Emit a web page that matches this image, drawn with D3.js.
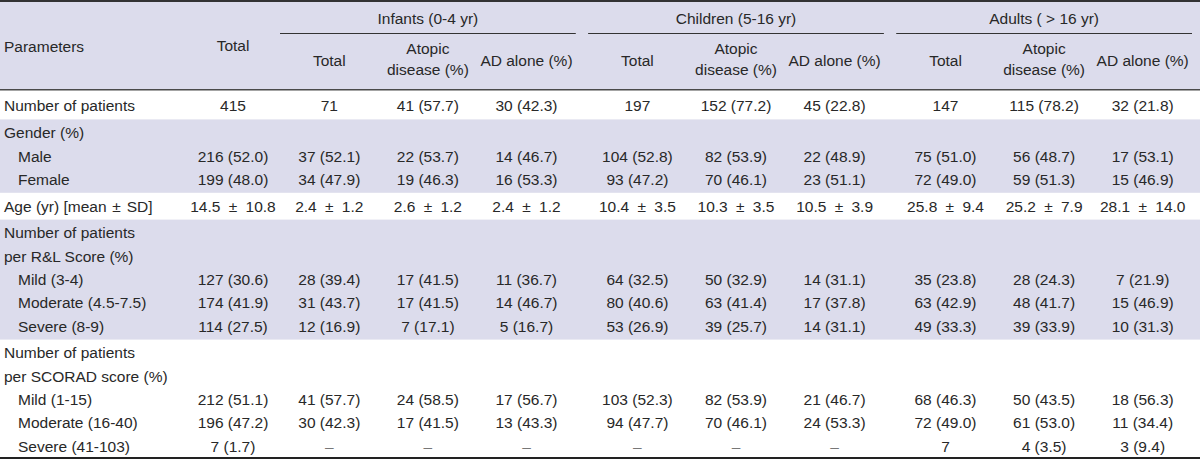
<!DOCTYPE html>
<html>
<head>
<meta charset="utf-8">
<script src="https://cdn.jsdelivr.net/npm/d3@7/dist/d3.min.js"></script>
<style>
  html, body { margin: 0; padding: 0; background: #ffffff; }
  svg text { font-family: "Liberation Sans", Arial, sans-serif; font-size: 15.5px; fill: #282828; }
</style>
</head>
<body>
<svg id="chart" width="1200" height="461"></svg>
<script>
// ---------- DATA ----------
const groups = ["Infants (0-4 yr)", "Children (5-16 yr)", "Adults ( > 16 yr)"];
const subColumns = ["Total", "Atopic disease (%)", "AD alone (%)"];
const paramHeader = "Parameters";
const totalHeader = "Total";

const rowLabels = [
  "Number of patients",
  "Gender (%)", "Male", "Female",
  "Age (yr) [mean \u00b1 SD]",
  "Number of patients", "per R&L Score (%)", "Mild (3-4)", "Moderate (4.5-7.5)", "Severe (8-9)",
  "Number of patients", "per SCORAD score (%)", "Mild (1-15)", "Moderate (16-40)", "Severe (41-103)"
];
const rowLevels = [0, 0, 1, 1, 0, 0, 0, 1, 1, 1, 0, 0, 1, 1, 1];
const rowSection = [0, 1, 1, 1, 2, 3, 3, 3, 3, 3, 4, 4, 4, 4, 4];

const totalValues = ["415", "", "216 (52.0)", "199 (48.0)", "14.5 \u00b1 10.8", "", "", "127 (30.6)", "174 (41.9)", "114 (27.5)", "", "", "212 (51.1)", "196 (47.2)", "7 (1.7)"];

const infantsTotal  = ["71", "", "37 (52.1)", "34 (47.9)", "2.4 \u00b1 1.2", "", "", "28 (39.4)", "31 (43.7)", "12 (16.9)", "", "", "41 (57.7)", "30 (42.3)", "\u2013"];
const infantsAtopic = ["41 (57.7)", "", "22 (53.7)", "19 (46.3)", "2.6 \u00b1 1.2", "", "", "17 (41.5)", "17 (41.5)", "7 (17.1)", "", "", "24 (58.5)", "17 (41.5)", "\u2013"];
const infantsAD     = ["30 (42.3)", "", "14 (46.7)", "16 (53.3)", "2.4 \u00b1 1.2", "", "", "11 (36.7)", "14 (46.7)", "5 (16.7)", "", "", "17 (56.7)", "13 (43.3)", "\u2013"];

const childrenTotal  = ["197", "", "104 (52.8)", "93 (47.2)", "10.4 \u00b1 3.5", "", "", "64 (32.5)", "80 (40.6)", "53 (26.9)", "", "", "103 (52.3)", "94 (47.7)", "\u2013"];
const childrenAtopic = ["152 (77.2)", "", "82 (53.9)", "70 (46.1)", "10.3 \u00b1 3.5", "", "", "50 (32.9)", "63 (41.4)", "39 (25.7)", "", "", "82 (53.9)", "70 (46.1)", "\u2013"];
const childrenAD     = ["45 (22.8)", "", "22 (48.9)", "23 (51.1)", "10.5 \u00b1 3.9", "", "", "14 (31.1)", "17 (37.8)", "14 (31.1)", "", "", "21 (46.7)", "24 (53.3)", "\u2013"];

const adultsTotal  = ["147", "", "75 (51.0)", "72 (49.0)", "25.8 \u00b1 9.4", "", "", "35 (23.8)", "63 (42.9)", "49 (33.3)", "", "", "68 (46.3)", "72 (49.0)", "7"];
const adultsAtopic = ["115 (78.2)", "", "56 (48.7)", "59 (51.3)", "25.2 \u00b1 7.9", "", "", "28 (24.3)", "48 (41.7)", "39 (33.9)", "", "", "50 (43.5)", "61 (53.0)", "4 (3.5)"];
const adultsAD     = ["32 (21.8)", "", "17 (53.1)", "15 (46.9)", "28.1 \u00b1 14.0", "", "", "7 (21.9)", "15 (46.9)", "10 (31.3)", "", "", "18 (56.3)", "11 (34.4)", "3 (9.4)"];

const groupValues = [
  [infantsTotal, infantsAtopic, infantsAD],
  [childrenTotal, childrenAtopic, childrenAD],
  [adultsTotal, adultsAtopic, adultsAD]
];

// ---------- LAYOUT ----------
const W = 1200, H = 461;
const svg = d3.select("#chart");
const shade = "#dcdcec";
const ink = "#282828";

const headerBottom = 89.5;
const tableBottom = 458;
const rowStep = 23.3, sectionGap = 3.5, firstRowY = 106;

const yRow = i => firstRowY + i * rowStep + rowSection[i] * sectionGap;

const groupScale = d3.scaleBand().domain(groups).range([280, 1192]).paddingInner(0.04);
const subScale = d3.scaleBand().domain(subColumns).range([0, groupScale.bandwidth()]);
const colCenter = (g, s) => groupScale(g) + subScale(s) + subScale.bandwidth() / 2;
const totalX = 233;
const labelX = 4, indentX = 18;

// writes a string, widening the gap around "±" a little (the source uses a wider symbol)
function putText(sel, str, pad) {
  const parts = str.split(" \u00b1 ");
  if (parts.length === 1) { sel.text(str); return sel; }
  sel.append("tspan").text(parts[0] + " ");
  sel.append("tspan").attr("dx", pad).text("\u00b1");
  sel.append("tspan").attr("dx", pad).text(" " + parts[1]);
  return sel;
}

// header background
svg.append("rect").attr("x", 0).attr("y", 0).attr("width", W).attr("height", headerBottom).attr("fill", shade);

// section bands (shaded alternate sections)
const sections = d3.groups(d3.range(rowLabels.length), i => rowSection[i]);
sections.forEach(([sec, idx]) => {
  const first = idx[0], last = idx[idx.length - 1];
  const top = first === 0 ? headerBottom : (yRow(first - 1) + yRow(first)) / 2;
  const bottom = last === rowLabels.length - 1 ? tableBottom : (yRow(last) + yRow(last + 1)) / 2;
  if (sec % 2 === 1) {
    svg.append("rect").attr("x", 0).attr("y", top).attr("width", W).attr("height", bottom - top).attr("fill", shade);
  }
});

// rules
svg.append("rect").attr("x", 0).attr("y", 0).attr("width", W).attr("height", 2).attr("fill", "#333");
svg.append("rect").attr("x", 0).attr("y", headerBottom - 0.5).attr("width", W).attr("height", 1.5).attr("fill", "#4a4a4a");
svg.append("rect").attr("x", 0).attr("y", tableBottom - 1).attr("width", W).attr("height", 2).attr("fill", "#222");

// header text
const hdr = svg.append("g");
hdr.append("text").attr("x", labelX).attr("y", 47).attr("dy", "0.35em").text(paramHeader);
hdr.append("text").attr("x", totalX).attr("y", 46).attr("dy", "0.35em").attr("text-anchor", "middle").text(totalHeader);

groups.forEach(g => {
  const x0 = groupScale(g), x1 = x0 + groupScale.bandwidth();
  hdr.append("text").attr("x", (x0 + x1) / 2).attr("y", 18.5).attr("dy", "0.35em").attr("text-anchor", "middle").text(g);
  hdr.append("line").attr("x1", x0).attr("x2", x1).attr("y1", 33.5).attr("y2", 33.5).attr("stroke", "#333").attr("stroke-width", 1.2);
  subColumns.forEach(s => {
    const cx = colCenter(g, s);
    const m = s.match(/^(\w+) (disease.*)$/);
    if (m) {
      hdr.append("text").attr("x", cx).attr("y", 49).attr("dy", "0.35em").attr("text-anchor", "middle").text(m[1]);
      hdr.append("text").attr("x", cx).attr("y", 70).attr("dy", "0.35em").attr("text-anchor", "middle").text(m[2]);
    } else {
      hdr.append("text").attr("x", cx).attr("y", 61).attr("dy", "0.35em").attr("text-anchor", "middle").text(s);
    }
  });
});

// body rows
const body = svg.append("g");
rowLabels.forEach((lab, i) => {
  const y = yRow(i);
  putText(body.append("text").attr("x", rowLevels[i] ? indentX : labelX).attr("y", y).attr("dy", "0.35em"), lab, 1.5);
  if (totalValues[i]) {
    putText(body.append("text").attr("x", totalX).attr("y", y).attr("dy", "0.35em").attr("text-anchor", "middle"), totalValues[i], 4);
  }
  groups.forEach((g, gi) => {
    subColumns.forEach((s, si) => {
      const v = groupValues[gi][si][i];
      if (v) {
        putText(body.append("text").attr("x", colCenter(g, s)).attr("y", y).attr("dy", "0.35em")
          .attr("text-anchor", "middle").style("fill", v === "\u2013" ? "#777" : ink), v, 4);
      }
    });
  });
});
</script>
</body>
</html>
